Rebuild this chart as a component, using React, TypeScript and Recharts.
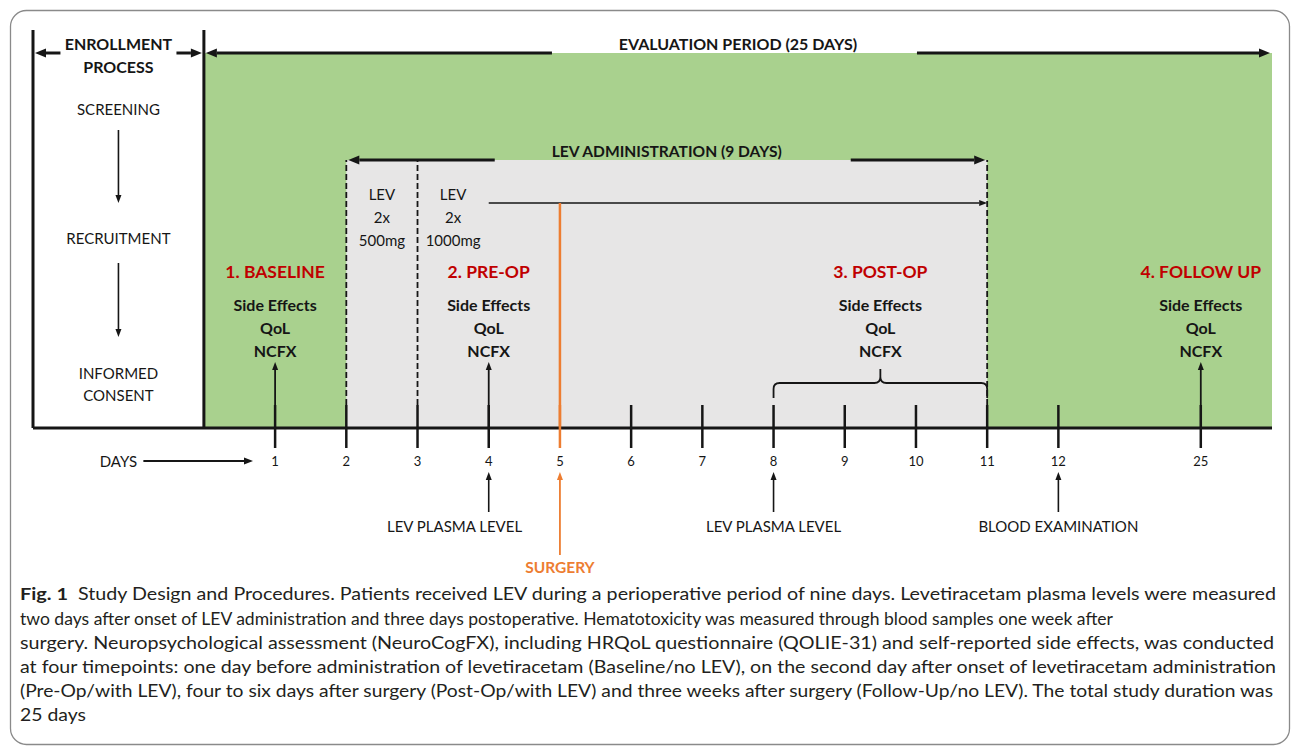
import React from 'react';
import {
  ComposedChart,
  XAxis,
  YAxis,
  Scatter,
  ReferenceArea,
  ReferenceLine,
  ReferenceDot,
} from 'recharts';

const WIDTH = 1293;
const HEIGHT = 749;

// timeline slots; day 25 is drawn two slots after day 12
const dayPositions = [1, 2, 3, 4, 5, 6, 7, 8, 9, 10, 11, 12, 14];
const dayLabels = ['1', '2', '3', '4', '5', '6', '7', '8', '9', '10', '11', '12', '25'];

const enrollmentStart = -2.4;
const evaluationStart = 0;
const evaluationEnd = 15;
const levStart = 2;
const levEnd = 11;
const levHighDoseFrom = 4;
const surgeryDay = 5;

const enrollmentSteps = ['SCREENING', 'RECRUITMENT', 'INFORMED', 'CONSENT'];

const timepoints = [
  { x: 1, label: '1. BASELINE' },
  { x: 4, label: '2. PRE-OP' },
  { x: 9.5, label: '3. POST-OP', from: 8, to: 11 },
  { x: 14, label: '4. FOLLOW UP' },
];
const assessments = ['Side Effects', 'QoL', 'NCFX'];

const doses = [
  { x: 2.5, lines: ['LEV', '2x', '500mg'] },
  { x: 3.5, lines: ['LEV', '2x', '1000mg'] },
];

const samplings = [
  { x: 4, label: 'LEV PLASMA LEVEL' },
  { x: 8, label: 'LEV PLASMA LEVEL' },
  { x: 12, label: 'BLOOD EXAMINATION' },
];
// the first label sits left of its arrow, clear of the surgery arrow
const samplingLabelAt = [3.52, 8, 12];

const captionLines = [
  'Study Design and Procedures. Patients received LEV during a perioperative period of nine days. Levetiracetam plasma levels were measured',
  'two days after onset of LEV administration and three days postoperative. Hematotoxicity was measured through blood samples one week after',
  'surgery. Neuropsychological assessment (NeuroCogFX), including HRQoL questionnaire (QOLIE-31) and self-reported side effects, was conducted',
  'at four timepoints: one day before administration of levetiracetam (Baseline/no LEV), on the second day after onset of levetiracetam administration',
  '(Pre-Op/with LEV), four to six days after surgery (Post-Op/with LEV) and three weeks after surgery (Follow-Up/no LEV). The total study duration was',
  '25 days',
];

// vertical layout, in px above the time axis
const ROW = {
  top: 428,
  boxTop: 398,
  header: 375,
  headerTitle1: 385,
  headerTitle2: 362,
  steps: [319, 190, 55, 33],
  stepArrows: [[298, 225], [165, 91]],
  levTop: 268,
  levTitle: 277,
  dose: [234, 211, 188],
  doseLine: 225,
  stage: 157,
  stageArrow: 66,
  brace: 30,
  dashEnd: 23,
  tickLabel: -33,
  eventHead: -44,
  eventTail: -84,
  eventLabel: -98,
  surgeryTail: -127,
  surgeryLabel: -139,
};
const daysArrow = [-0.85, 0.69];

const FONT = "Lato, 'Open Sans', sans-serif";
const INK = '#161616';
const RED = '#c00000';
const ORANGE = '#ed7d31';
const GREEN = '#a9d18e';
const GREY = '#e7e6e6';

const lineShape = (color: string, width: number, dash?: string) => (p: any) => (
  <line x1={p.x1} y1={p.y1} x2={p.x2} y2={p.y2} stroke={color} strokeWidth={width} strokeDasharray={dash} />
);

function head(tx: number, ty: number, fx: number, fy: number, len: number, w: number, color: string) {
  const d = Math.hypot(tx - fx, ty - fy) || 1;
  const ux = (tx - fx) / d;
  const uy = (ty - fy) / d;
  const bx = tx - ux * len;
  const by = ty - uy * len;
  const px = (-uy * w) / 2;
  const py = (ux * w) / 2;
  return {
    base: [bx, by],
    poly: <polygon points={`${tx},${ty} ${bx + px},${by + py} ${bx - px},${by - py}`} fill={color} />,
  };
}

const arrowShape = (color: string, width: number, len = 8, w = 6) => (p: any) => {
  const h = head(p.x2, p.y2, p.x1, p.y1, len, w, color);
  return (
    <g>
      <line x1={p.x1} y1={p.y1} x2={h.base[0]} y2={h.base[1]} stroke={color} strokeWidth={width} />
      {h.poly}
    </g>
  );
};

// two outward arrows with a gap around the middle for a title
const spanShape = (gapL: number, gapR: number) => (p: any) => {
  const mid = (p.x1 + p.x2) / 2;
  const y = p.y1;
  const l = head(p.x1 + 2, y, mid - gapL, y, 11, 9, INK);
  const r = head(p.x2 - 2, y, mid + gapR, y, 11, 9, INK);
  return (
    <g>
      <line x1={mid - gapL} y1={y} x2={l.base[0]} y2={y} stroke={INK} strokeWidth={3} />
      {l.poly}
      <line x1={mid + gapR} y1={y} x2={r.base[0]} y2={y} stroke={INK} strokeWidth={3} />
      {r.poly}
    </g>
  );
};

const braceShape = (p: any) => {
  const { x1, x2 } = p;
  const yb = p.y1;
  const yh = yb - 15;
  const yc = yb - 29;
  const xm = (x1 + x2) / 2;
  const r = 6;
  const d = [
    `M ${x1} ${yb} L ${x1} ${yh + r} Q ${x1} ${yh} ${x1 + r} ${yh}`,
    `L ${xm - r} ${yh} Q ${xm} ${yh} ${xm} ${yh - r} L ${xm} ${yc}`,
    `M ${xm} ${yh - r} Q ${xm} ${yh} ${xm + r} ${yh}`,
    `L ${x2 - r} ${yh} Q ${x2} ${yh} ${x2} ${yh + r} L ${x2} ${yb}`,
  ].join(' ');
  return <path d={d} fill="none" stroke={INK} strokeWidth={1.8} />;
};

function seg(key: string, a: [number, number], b: [number, number], shape: any) {
  return (
    <ReferenceLine
      key={key}
      segment={[{ x: a[0], y: a[1] }, { x: b[0], y: b[1] }]}
      ifOverflow="visible"
      shape={shape}
    />
  );
}

function label(
  key: string,
  x: number,
  y: number,
  text: string,
  size = 15,
  weight = 400,
  color = INK,
) {
  return (
    <ReferenceDot
      key={key}
      x={x}
      y={y}
      r={1}
      ifOverflow="visible"
      shape={(p: any) => (
        <text
          x={p.cx}
          y={p.cy}
          textAnchor="middle"
          dominantBaseline="central"
          fontFamily={FONT}
          fontSize={size}
          fontWeight={weight}
          fill={color}
        >
          {text}
        </text>
      )}
    />
  );
}

const renderDayTick = (props: any) => {
  const { x, y, payload } = props;
  const idx = dayPositions.indexOf(payload.value);
  const color = payload.value === surgeryDay ? ORANGE : INK;
  return (
    <g>
      <line x1={x} x2={x} y1={y - 23} y2={y + 20} stroke={color} strokeWidth={2.5} />
      <text
        x={x}
        y={y + 33}
        textAnchor="middle"
        dominantBaseline="central"
        fontFamily={FONT}
        fontSize={13}
        fill={INK}
      >
        {dayLabels[idx]}
      </text>
    </g>
  );
};

const StageShape = (p: any) => {
  const { cx, cy, payload } = p;
  return (
    <g fontFamily={FONT} textAnchor="middle">
      <text x={cx} y={cy} dominantBaseline="central" fontSize={17.5} fontWeight={700} fill={RED}>
        {payload.label}
      </text>
      {assessments.map((a, i) => (
        <text key={a} x={cx} y={cy + 33 + i * 23} dominantBaseline="central" fontSize={16} fontWeight={700} fill={INK}>
          {a}
        </text>
      ))}
    </g>
  );
};

const stageData = timepoints.map((t) => ({ x: t.x, y: ROW.stage, label: t.label }));
const captionWidths = [1198, 1093, 1254, 1256, 1253, 66];
const captionY = [593, 618, 642, 666, 690, 714];

export default function App() {
  const enrollMid = (enrollmentStart + evaluationStart) / 2;
  const evalMid = (evaluationStart + evaluationEnd) / 2;
  const levMid = (levStart + levEnd) / 2;

  return (
    <div style={{ position: 'absolute', left: 0, top: 0, width: WIDTH, height: HEIGHT, background: '#fff' }}>
      <ComposedChart width={WIDTH} height={HEIGHT} margin={{ top: 0, right: 21, bottom: 291, left: 33 }}>
        <ReferenceArea x1={evaluationStart} x2={evaluationEnd} y1={0} y2={ROW.header} fill={GREEN} fillOpacity={1} stroke="none" />
        <ReferenceArea x1={levStart} x2={levEnd} y1={0} y2={ROW.levTop} fill={GREY} fillOpacity={1} stroke="none" />

        <XAxis
          dataKey="x"
          type="number"
          domain={[enrollmentStart, evaluationEnd]}
          ticks={dayPositions}
          interval={0}
          tickSize={0}
          tickMargin={0}
          tickLine={false}
          axisLine={{ stroke: INK, strokeWidth: 3 }}
          tick={renderDayTick}
        />
        <YAxis dataKey="y" type="number" domain={[0, ROW.top]} hide />

        {/* enrollment box and phase borders */}
        {seg('encl-l', [enrollmentStart, 0], [enrollmentStart, ROW.boxTop], lineShape(INK, 3))}
        {seg('encl-r', [evaluationStart, 0], [evaluationStart, ROW.boxTop], lineShape(INK, 3))}
        {[levStart, 3, levEnd].map((d) =>
          seg(`dash-${d}`, [d, ROW.dashEnd], [d, ROW.levTop], lineShape(INK, 1.8, '6 3')),
        )}

        {/* header spans */}
        {seg('span-enrol', [enrollmentStart, ROW.header], [evaluationStart, ROW.header], spanShape(58, 58))}
        {seg('span-eval', [evaluationStart, ROW.header], [evaluationEnd, ROW.header], spanShape(186, 179))}
        {seg('span-lev', [levStart, ROW.levTop], [levEnd, ROW.levTop], spanShape(172, 184))}
        {label('t-enrol1', enrollMid, ROW.headerTitle1, 'ENROLLMENT', 16, 700)}
        {label('t-enrol2', enrollMid, ROW.headerTitle2, 'PROCESS', 16, 700)}
        {label('t-eval', evalMid, ROW.headerTitle1, 'EVALUATION PERIOD (25 DAYS)', 16, 700)}
        {label('t-lev', levMid, ROW.levTitle, 'LEV ADMINISTRATION (9 DAYS)', 15.6, 700)}

        {/* enrollment steps */}
        {enrollmentSteps.map((s, i) => label(`step-${i}`, enrollMid, ROW.steps[i], s))}
        {ROW.stepArrows.map((a, i) =>
          seg(`step-arr-${i}`, [enrollMid, a[0]], [enrollMid, a[1]], arrowShape(INK, 1.6)),
        )}

        {/* dosing */}
        {doses.map((d) => d.lines.map((t, i) => label(`dose-${d.x}-${i}`, d.x, ROW.dose[i], t)))}
        {seg('dose-line', [levHighDoseFrom, ROW.doseLine], [levEnd, ROW.doseLine], arrowShape(INK, 1.6))}
        {seg('surgery', [surgeryDay, 0], [surgeryDay, ROW.doseLine], lineShape(ORANGE, 2.5))}

        {/* assessment timepoints */}
        {timepoints
          .filter((t) => t.from === undefined)
          .map((t) => seg(`tp-${t.x}`, [t.x, 0], [t.x, ROW.stageArrow], arrowShape(INK, 1.8)))}
        {timepoints
          .filter((t) => t.from !== undefined)
          .map((t) => seg(`brace-${t.x}`, [t.from as number, ROW.brace], [t.to as number, ROW.brace], braceShape))}

        {/* below the axis */}
        {label('days', enrollMid, ROW.tickLabel, 'DAYS')}
        {seg('days-arr', [daysArrow[0], ROW.tickLabel], [daysArrow[1], ROW.tickLabel], arrowShape(INK, 1.8, 9, 7))}
        {samplings.map((s, i) => seg(`samp-${i}`, [s.x, ROW.eventTail], [s.x, ROW.eventHead], arrowShape(INK, 1.6)))}
        {samplings.map((s, i) => label(`samp-t-${i}`, samplingLabelAt[i], ROW.eventLabel, s.label))}
        {seg('surg-arr', [surgeryDay, ROW.surgeryTail], [surgeryDay, ROW.eventHead], arrowShape(ORANGE, 1.8))}
        {label('surg-t', surgeryDay, ROW.surgeryLabel, 'SURGERY', 15.5, 700, ORANGE)}

        <Scatter data={stageData} isAnimationActive={false} shape={StageShape} />
      </ComposedChart>

      <svg
        width={WIDTH}
        height={HEIGHT}
        style={{ position: 'absolute', left: 0, top: 0, pointerEvents: 'none' }}
      >
        <rect x={10.5} y={10.5} width={1279} height={734} rx={16} fill="none" stroke="#8a8a8a" strokeWidth={1.3} />
        <g fontFamily={FONT} fontSize={17} fill="#231f20">
          <text x={20} y={captionY[0]} dominantBaseline="central" fontWeight={700} textLength={48} lengthAdjust="spacingAndGlyphs">
            Fig. 1
          </text>
          {captionLines.map((line, i) => (
            <text
              key={i}
              x={i === 0 ? 78 : 20}
              y={captionY[i]}
              dominantBaseline="central"
              textLength={captionWidths[i]}
              lengthAdjust="spacingAndGlyphs"
            >
              {line}
            </text>
          ))}
        </g>
      </svg>
    </div>
  );
}
